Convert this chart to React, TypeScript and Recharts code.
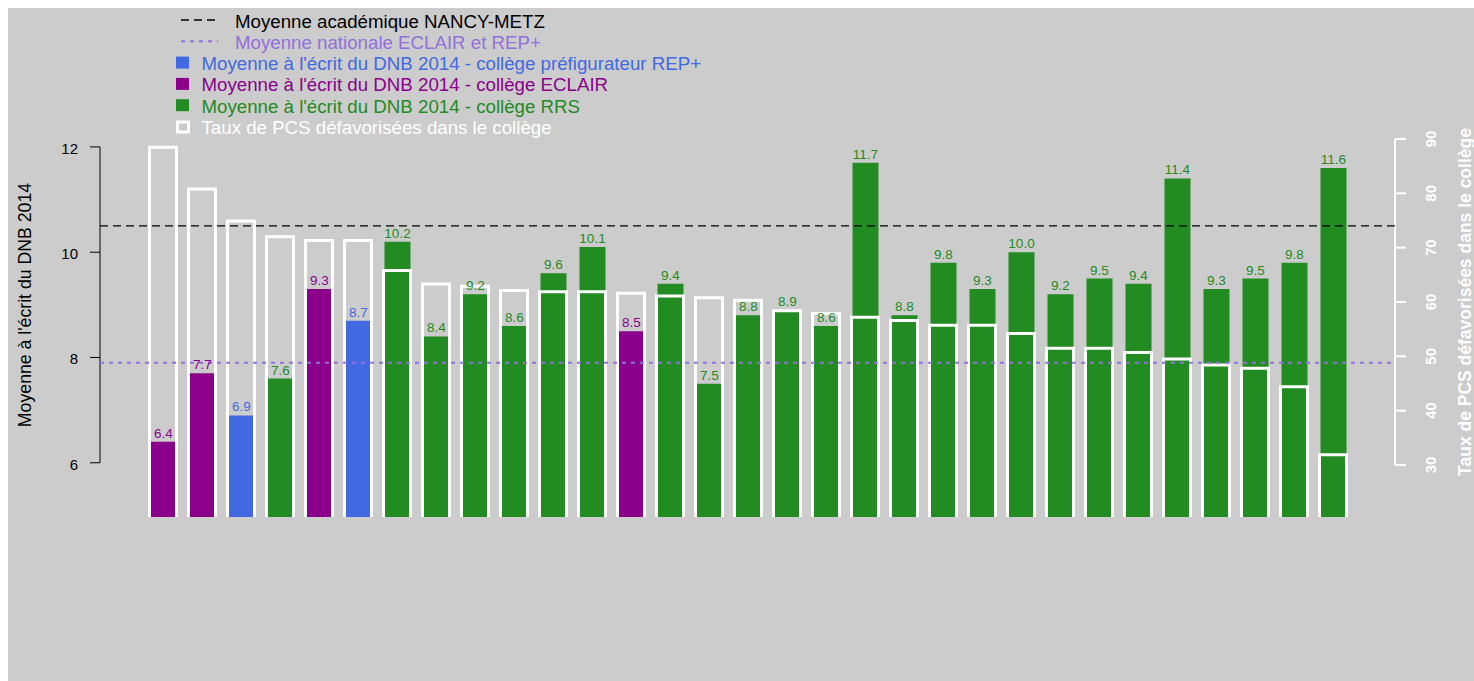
import React from 'react'
import { BarChart, Bar, XAxis, YAxis, Cell, LabelList, ReferenceLine, ReferenceArea } from 'recharts'

// one entry per college, in the order of the picture
const colleges = [
  'C01', 'C02', 'C03', 'C04', 'C05', 'C06', 'C07', 'C08', 'C09', 'C10', 'C11',
  'C12', 'C13', 'C14', 'C15', 'C16', 'C17', 'C18', 'C19', 'C20', 'C21', 'C22',
  'C23', 'C24', 'C25', 'C26', 'C27', 'C28', 'C29', 'C30', 'C31',
]
const dnbScores = [
  6.4, 7.7, 6.9, 7.6, 9.3, 8.7, 10.2, 8.4, 9.2, 8.6, 9.6, 10.1, 8.5, 9.4, 7.5, 8.8,
  8.9, 8.6, 11.7, 8.8, 9.8, 9.3, 10.0, 9.2, 9.5, 9.4, 11.4, 9.3, 9.5, 9.8, 11.6,
]
const collegeTypes = [
  'ECLAIR', 'ECLAIR', 'REP+', 'RRS', 'ECLAIR', 'REP+', 'RRS', 'RRS', 'RRS', 'RRS',
  'RRS', 'RRS', 'ECLAIR', 'RRS', 'RRS', 'RRS', 'RRS', 'RRS', 'RRS', 'RRS', 'RRS',
  'RRS', 'RRS', 'RRS', 'RRS', 'RRS', 'RRS', 'RRS', 'RRS', 'RRS', 'RRS',
]
const pcsRates = [
  88.5, 80.8, 74.9, 72.0, 71.3, 71.3, 65.8, 63.3, 62.9, 62.1, 61.9, 61.9, 61.6, 61.1,
  60.8, 60.3, 58.4, 57.9, 57.2, 56.6, 55.7, 55.7, 54.2, 51.5, 51.5, 50.7, 49.5, 48.4,
  47.8, 44.4, 31.9,
]

const academicMean = 10.5 // Moyenne académique NANCY-METZ
const nationalMean = 7.9 // Moyenne nationale ECLAIR et REP+

const leftTicks = [6, 8, 10, 12]
const rightTicks = [30, 40, 50, 60, 70, 80, 90]

const typeColors: Record<string, string> = {
  'REP+': '#4169E1',
  ECLAIR: '#8B008B',
  RRS: '#228B22',
}

const legendItems = [
  { kind: 'dash', color: '#000000', text: 'Moyenne académique NANCY-METZ' },
  { kind: 'dot', color: '#9370DB', text: 'Moyenne nationale ECLAIR et REP+' },
  { kind: 'fill', color: '#4169E1', text: "Moyenne à l'écrit du DNB 2014 - collège préfigurateur REP+" },
  { kind: 'fill', color: '#8B008B', text: "Moyenne à l'écrit du DNB 2014 - collège ECLAIR" },
  { kind: 'fill', color: '#228B22', text: "Moyenne à l'écrit du DNB 2014 - collège RRS" },
  { kind: 'frame', color: '#FFFFFF', text: 'Taux de PCS défavorisées dans le collège' },
]

const data = colleges.map((name, i) => ({
  name,
  score: dnbScores[i],
  pcs: pcsRates[i],
  type: collegeTypes[i],
}))

const FONT = '"Liberation Sans", Arial, sans-serif'
const W = 1466
const H = 673

// white frame without a bottom edge, like the R rect clipped at the plot border
const OpenFrame = (props: any) => {
  const { x, y, width, height } = props
  if (height == null || width == null) return null
  return (
    <path
      d={`M${x},${y + height}V${y}H${x + width}V${y + height}`}
      fill="none"
      stroke="#FFFFFF"
      strokeWidth={3}
    />
  )
}

// R style axis line: only between first and last tick
const AxisSpan = ({ side, color, width }: { side: 'left' | 'right'; color: string; width: number }) =>
  (props: any) => {
    const { x, y, height } = props
    const px = side === 'left' ? x : x + props.width
    return <line x1={px} x2={px} y1={y} y2={y + height} stroke={color} strokeWidth={width} />
  }

const ScoreLabel = (props: any) => {
  const { x, y, width, value, index } = props
  return (
    <text
      x={x + width / 2}
      y={y - 4}
      textAnchor="middle"
      fontSize={13.5}
      fontFamily={FONT}
      fill={typeColors[collegeTypes[index]]}
    >
      {Number(value).toFixed(1)}
    </text>
  )
}

const LeftTick = (props: any) => {
  const { x, y, payload } = props
  return (
    <text x={x} y={y + 7} textAnchor="end" fontSize={15} fontFamily={FONT} fill="#000">
      {payload.value}
    </text>
  )
}

const RightTick = (props: any) => {
  const { x, y, payload } = props
  return (
    <text
      transform={`translate(${x},${y}) rotate(-90)`}
      textAnchor="middle"
      fontSize={15}
      fontWeight="bold"
      fontFamily={FONT}
      fill="#FFFFFF"
    >
      {payload.value}
    </text>
  )
}

const Legend = () => (
  <svg width={720} height={140} style={{ position: 'absolute', left: 0, top: 0 }}>
    {legendItems.map((item, i) => {
      const base = 19.5 + 21.3 * i
      const mid = base - 7.5
      const textX = item.kind === 'dash' || item.kind === 'dot' ? 227 : 193.5
      return (
        <g key={item.text}>
          {item.kind === 'dash' && (
            <line x1={173} x2={208} y1={mid} y2={mid} stroke={item.color} strokeWidth={1.3} strokeDasharray="8 5" />
          )}
          {item.kind === 'dot' && (
            <line x1={173} x2={210} y1={mid} y2={mid} stroke={item.color} strokeWidth={2} strokeDasharray="4 5" />
          )}
          {item.kind === 'fill' && <rect x={168} y={mid - 6} width={13} height={12} fill={item.color} />}
          {item.kind === 'frame' && (
            <rect x={169.5} y={mid - 4.5} width={11} height={10} fill="none" stroke={item.color} strokeWidth={3} />
          )}
          <text x={textX} y={base} fontSize={18.7} fontFamily={FONT} fill={item.color}>
            {item.text}
          </text>
        </g>
      )
    })}
  </svg>
)

const App = () => {
  return (
    <>
      <style>{'html,body{margin:0;padding:0;overflow:hidden;background:#fff}'}</style>
      <div style={{ position: 'relative', width: 1474, height: 681, background: '#FFFFFF' }}>
        <div
          style={{
            position: 'absolute',
            left: 8,
            top: 8,
            width: W,
            height: H,
            background: '#CCCCCC',
            fontFamily: FONT,
          }}
        >
          <BarChart
            width={W}
            height={H}
            data={data}
            margin={{ top: 131, right: 19, bottom: 164, left: 32 }}
            barGap={0}
            barCategoryGap={0}
          >
            <XAxis xAxisId="score" dataKey="name" hide padding={{ left: 43.5, right: 42.5 }} />
            <XAxis xAxisId="pcs" dataKey="name" hide padding={{ left: 43.5, right: 42.5 }} />
            <XAxis xAxisId="frame" type="number" domain={[0, 1]} hide allowDataOverflow />
            <YAxis
              yAxisId="score"
              domain={[4.97, 12.15]}
              ticks={leftTicks}
              allowDataOverflow
              width={60}
              axisLine={false}
              tickSize={10}
              tickMargin={12}
              tickLine={{ stroke: '#000000' }}
              tick={<LeftTick />}
              label={{
                content: () => (
                  <text
                    transform="translate(22.5,297) rotate(-90)"
                    textAnchor="middle"
                    fontSize={17.7}
                    fontFamily={FONT}
                    fill="#000"
                  >
                    Moyenne à l'écrit du DNB 2014
                  </text>
                ),
              }}
            />
            <YAxis
              yAxisId="pcs"
              orientation="right"
              domain={[20.43, 90]}
              ticks={rightTicks}
              allowDataOverflow
              width={60}
              axisLine={false}
              tickSize={11}
              tickMargin={30}
              tickLine={{ stroke: '#FFFFFF', strokeWidth: 2 }}
              tick={<RightTick />}
              label={{
                content: () => (
                  <text
                    transform="translate(1463,294) rotate(-90)"
                    textAnchor="middle"
                    fontSize={17.5}
                    fontWeight="bold"
                    fontFamily={FONT}
                    fill="#FFFFFF"
                  >
                    Taux de PCS défavorisées dans le collège
                  </text>
                ),
              }}
            />

            <Bar xAxisId="score" yAxisId="score" dataKey="score" barSize={26} isAnimationActive={false}>
              {data.map((d) => (
                <Cell key={d.name} fill={typeColors[d.type]} />
              ))}
              <LabelList dataKey="score" content={<ScoreLabel />} />
            </Bar>
            <Bar
              xAxisId="pcs"
              yAxisId="pcs"
              dataKey="pcs"
              barSize={27}
              fill="none"
              shape={(p: any) => <OpenFrame {...p} />}
              isAnimationActive={false}
            />

            <ReferenceLine
              xAxisId="frame"
              yAxisId="score"
              y={academicMean}
              stroke="#000000"
              strokeWidth={1.3}
              strokeDasharray="8 5"
            />
            <ReferenceLine
              xAxisId="frame"
              yAxisId="score"
              y={nationalMean}
              stroke="#9370DB"
              strokeWidth={2}
              strokeDasharray="4 5"
            />
            <ReferenceArea
              xAxisId="frame"
              yAxisId="score"
              y1={leftTicks[0]}
              y2={leftTicks[leftTicks.length - 1]}
              shape={AxisSpan({ side: 'left', color: '#000000', width: 1 })}
            />
            <ReferenceArea
              xAxisId="frame"
              yAxisId="pcs"
              y1={rightTicks[0]}
              y2={rightTicks[rightTicks.length - 1]}
              shape={AxisSpan({ side: 'right', color: '#FFFFFF', width: 2 })}
            />
          </BarChart>
          <Legend />
        </div>
      </div>
    </>
  )
}

export default App
